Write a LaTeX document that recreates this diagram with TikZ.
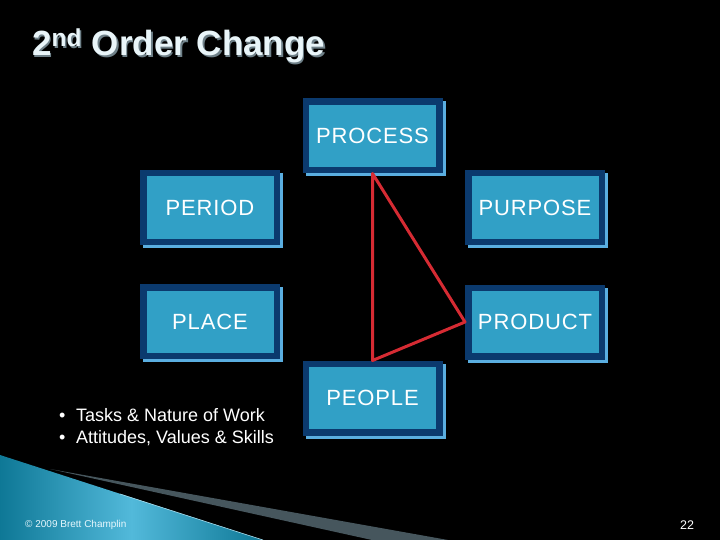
\documentclass[tikz,border=0pt]{standalone}
\usepackage{fontspec}
\setmainfont{Liberation Sans}
\newfontfamily\boxfont[LetterSpace=4]{Liberation Sans}
\usepackage{tikz}
\usetikzlibrary{shapes,arrows,positioning,calc,shadows}
\definecolor{navy}{HTML}{0B3A6E}
\definecolor{fillblue}{HTML}{31A0C6}
\definecolor{shadeblue}{HTML}{5AAEE0}
\definecolor{redline}{HTML}{D62B33}
\definecolor{tealdark}{HTML}{0E7896}
\definecolor{teallight}{HTML}{52B9DA}
\definecolor{greyband}{HTML}{46565D}
\definecolor{titlecol}{HTML}{E9F5F9}
\definecolor{titleshadow}{HTML}{6E8088}

\begin{document}
\begin{tikzpicture}[x=1pt, y=-1pt,
  pbox/.style={rectangle, draw=navy, line width=6.5pt, fill=fillblue,
    minimum width=133.5pt, minimum height=68.5pt, inner sep=0pt, text=white,
    font=\boxfont\fontsize{22}{26}\selectfont,
    general shadow={draw=shadeblue, fill=shadeblue, line width=6.5pt,
      shadow xshift=3pt, shadow yshift=-3pt}},
  tri/.style={draw=redline, line width=3pt, line join=round},
  txt/.style={anchor=base west, inner sep=0pt, text=white}]
\path[use as bounding box, fill=black] (0,0) rectangle (720,540);
% slide decoration
\shade[left color=tealdark, right color=tealdark, middle color=teallight]
  (0,455) -- (263,540) -- (0,540) -- cycle;
\draw[teallight!50!white, line width=0.6pt] (120,494) -- (263,540);
\fill[greyband] (50,469) -- (448,540) -- (372,540) -- cycle;
% title
\node (titleshade) [txt, text=titleshadow, font=\bfseries\fontsize{35}{40}\selectfont] at (33.5,57.5) {2\textsuperscript{nd} Order Change};
\node (title) [txt, text=titlecol, font=\bfseries\fontsize{35}{40}\selectfont] at (32,56) {2\textsuperscript{nd} Order Change};
% boxes
\node (process) [pbox] at (372.5,136) {PROCESS};
\node (period) [pbox] at (210,207.5) {PERIOD};
\node (purpose) [pbox] at (535,207.5) {PURPOSE};
\node (place) [pbox] at (210,321.5) {PLACE};
\node (product) [pbox] at (535,322) {PRODUCT};
\node (people) [pbox] at (372.5,398) {PEOPLE};
\draw[tri] (process.south) -- (product.west) -- (people.north) -- cycle;
% notes
\node (item1) [txt, font=\fontsize{18}{22}\selectfont] at (59,421) {\makebox[17pt][l]{\textbullet}Tasks \& Nature of Work};
\node (item2) [txt, font=\fontsize{18}{22}\selectfont] at (59,443) {\makebox[17pt][l]{\textbullet}Attitudes, Values \& Skills};
\node (copy) [txt, text=white!90!cyan, font=\fontsize{10}{12}\selectfont] at (25,527) {\textcopyright{} 2009 Brett Champlin};
\node (page) [txt, font=\fontsize{12.5}{14}\selectfont] at (680,529) {22};
\end{tikzpicture}
\end{document}
